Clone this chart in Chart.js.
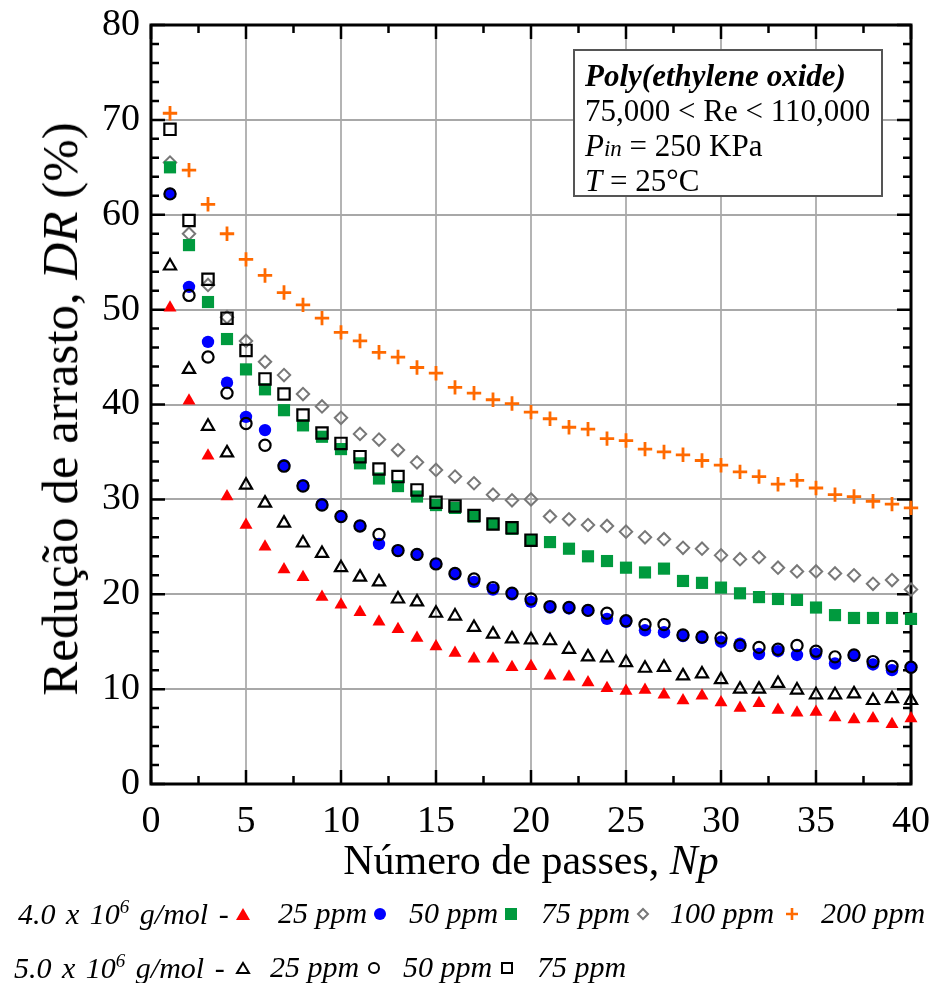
<!DOCTYPE html>
<html><head><meta charset="utf-8">
<script src="https://cdn.jsdelivr.net/npm/chart.js@4.4.1/dist/chart.umd.min.js"></script>
<style>
html,body{margin:0;padding:0;background:#fff;}
#wrap{position:relative;width:930px;height:983px;overflow:hidden;font-family:"Liberation Serif","Times New Roman",serif;color:#000;}
#c{position:absolute;left:0;top:0;}
.abs{position:absolute;white-space:nowrap;}
#ytitle{left:60px;top:409px;font-size:51px;transform:translate(-50%,-50%) rotate(-90deg);}
#xtitle{left:531px;top:836px;font-size:42px;transform:translateX(-50%);}
#box{left:573px;top:49px;width:306px;height:144px;border:2px solid #555;background:#fff;font-size:31px;line-height:35px;padding:0;}
#box div{position:absolute;left:10px;}
.leg{font-style:italic;font-size:30px;transform:translateY(-50%);}
.mk{position:absolute;transform:translate(-50%,-50%);}
</style></head><body>
<div id="wrap">
<canvas id="c" width="930" height="983"></canvas>
<div class="abs" id="ytitle">Redução de arrasto, <i>DR</i> (%)</div>
<div class="abs" id="xtitle">Número de passes, <i>Np</i></div>
<div class="abs" id="box">
  <div style="top:7px;font-weight:bold;font-style:italic;font-size:31px;">Poly(ethylene oxide)</div>
  <div style="top:42px;">75,000 &lt; Re &lt; 110,000</div>
  <div style="top:77px;"><i>P</i><i style="font-size:23px;">in</i> = 250 KPa</div>
  <div style="top:112px;"><i>T</i> = 25°C</div>
</div>
<div id="legend"></div>
</div>
<script>
// ---- data ----
const passes = [1,2,3,4,5,6,7,8,9,10,11,12,13,14,15,16,17,18,19,20,21,22,23,24,25,26,27,28,29,30,31,32,33,34,35,36,37,38,39,40];
const peo4_25ppm = [50.2,40.4,34.6,30.3,27.3,25.0,22.6,21.8,19.7,18.9,18.1,17.1,16.3,15.4,14.5,13.8,13.2,13.2,12.3,12.4,11.4,11.3,10.7,10.1,9.8,9.9,9.4,8.8,9.3,8.6,8.0,8.5,7.8,7.5,7.6,7.0,6.8,6.9,6.3,6.9];
const peo4_50ppm = [62.2,52.4,46.6,42.3,38.7,37.3,33.6,31.5,29.5,28.2,27.2,25.3,24.6,24.2,23.2,22.1,21.3,20.5,20.0,19.2,18.6,18.5,18.3,17.4,17.1,16.2,16.0,15.6,15.4,15.0,14.8,13.7,14.0,13.6,13.7,12.7,13.5,12.6,12.0,12.3];
const peo4_75ppm = [65.0,56.8,50.8,46.9,43.7,41.6,39.4,37.8,36.6,35.3,33.8,32.2,31.4,30.3,29.4,29.1,28.2,27.4,26.9,25.7,25.5,24.8,24.0,23.5,22.8,22.3,22.7,21.4,21.2,20.7,20.1,19.7,19.5,19.4,18.6,17.8,17.5,17.5,17.5,17.4];
const peo4_100ppm = [65.5,58.0,52.6,49.2,46.7,44.5,43.1,41.1,39.8,38.6,36.9,36.3,35.2,33.9,33.1,32.4,31.7,30.5,29.9,30.0,28.2,27.9,27.3,27.2,26.6,26.0,25.8,24.9,24.8,24.1,23.7,23.9,22.8,22.4,22.4,22.2,22.0,21.1,21.5,20.5];
const peo4_200ppm = [70.7,64.7,61.1,58.0,55.3,53.6,51.8,50.5,49.1,47.6,46.7,45.5,45.0,43.9,43.3,41.8,41.2,40.5,40.1,39.2,38.5,37.6,37.4,36.4,36.2,35.3,35.0,34.7,34.1,33.6,32.9,32.4,31.6,32.0,31.2,30.5,30.3,29.8,29.5,29.1];
const peo5_25ppm = [54.6,43.7,37.7,34.9,31.5,29.6,27.5,25.4,24.3,22.8,21.8,21.3,19.5,19.2,18.0,17.7,16.5,15.8,15.3,15.2,15.1,14.2,13.4,13.3,12.8,12.2,12.3,11.4,11.6,11.0,10.0,10.0,10.6,9.9,9.4,9.4,9.5,8.8,9.0,8.8];
const peo5_50ppm = [62.2,51.5,45.0,41.2,38.0,35.7,33.5,31.4,29.4,28.2,27.2,26.3,24.6,24.2,23.2,22.2,21.6,20.7,20.1,19.5,18.7,18.6,18.3,18.0,17.2,16.8,16.8,15.7,15.5,15.4,14.6,14.4,14.2,14.6,14.0,13.4,13.6,12.9,12.4,12.3];
const peo5_75ppm = [69.0,59.4,53.2,49.1,45.7,42.7,41.1,38.9,37.0,35.9,34.5,33.2,32.4,31.0,29.7,29.3,28.3,27.4,27.0,25.7];
const xTickValues = [0,5,10,15,20,25,30,35,40];
const yTickValues = [0,10,20,30,40,50,60,70,80];

function pts(vals){ return vals.map((v,i)=>({x:passes[i], y:v})); }

const seriesDefs = [
  {label:'4.0 x 10^6 g/mol - 25 ppm', data:peo4_25ppm, style:'triangle', r:7.5, bg:'#ff0000', bc:'#ff0000', bw:0, order:2},
  {label:'4.0 x 10^6 g/mol - 50 ppm', data:peo4_50ppm, style:'circle', r:6.2, bg:'#0000ff', bc:'#0000ff', bw:0, order:2},
  {label:'4.0 x 10^6 g/mol - 75 ppm', data:peo4_75ppm, style:'rect', r:8.6, bg:'#009a3e', bc:'#009a3e', bw:0, order:2},
  {label:'4.0 x 10^6 g/mol - 100 ppm', data:peo4_100ppm, style:'rectRot', r:6.2, bg:'rgba(0,0,0,0)', bc:'#777777', bw:2, order:2},
  {label:'4.0 x 10^6 g/mol - 200 ppm', data:peo4_200ppm, style:'cross', r:7.2, bg:'#ff6a00', bc:'#ff6a00', bw:2.8, order:2},
  {label:'5.0 x 10^6 g/mol - 25 ppm', data:peo5_25ppm, style:'triangle', r:7, bg:'rgba(0,0,0,0)', bc:'#000', bw:2.2, order:1},
  {label:'5.0 x 10^6 g/mol - 50 ppm', data:peo5_50ppm, style:'circle', r:5.6, bg:'rgba(0,0,0,0)', bc:'#000', bw:2.2, order:1},
  {label:'5.0 x 10^6 g/mol - 75 ppm', data:peo5_75ppm, style:'rect', r:8, bg:'rgba(0,0,0,0)', bc:'#000', bw:2.2, order:1}
];

const datasets = seriesDefs.map(s=>({
  label:s.label, data:pts(s.data), pointStyle:s.style, pointRadius:s.r, pointHoverRadius:s.r,
  pointBackgroundColor:s.bg, pointBorderColor:s.bc, pointBorderWidth:s.bw,
  backgroundColor:s.bg, borderColor:s.bc, showLine:false, order:s.order, clip:false
}));

const framePlugin = {
  id:'frame',
  beforeDatasetsDraw(chart){
    const ctx = chart.ctx, a = chart.chartArea, xs = chart.scales.x, ys = chart.scales.y;
    ctx.save();
    ctx.strokeStyle = '#000';
    ctx.lineWidth = 2.5;
    ctx.lineCap = 'butt';
    ctx.beginPath();
    for (let v = 0; v <= 40; v += 2.5) {
      const px = xs.getPixelForValue(v);
      const len = (v % 5 === 0) ? 14 : 8;
      ctx.moveTo(px, a.bottom); ctx.lineTo(px, a.bottom - len);
      ctx.moveTo(px, a.top); ctx.lineTo(px, a.top + len);
    }
    for (let v = 0; v <= 80; v += 2) {
      const py = ys.getPixelForValue(v);
      const len = (v % 10 === 0) ? 14 : 8;
      ctx.moveTo(a.left, py); ctx.lineTo(a.left + len, py);
      ctx.moveTo(a.right, py); ctx.lineTo(a.right - len, py);
    }
    ctx.stroke();
    ctx.lineWidth = 3;
    ctx.strokeRect(a.left, a.top, a.right - a.left, a.bottom - a.top);
    ctx.restore();
  }
};

const tickFont = {family:'Liberation Serif', size:38};
function noPad(s){ s.paddingLeft = 0; s.paddingRight = 0; s.paddingTop = 0; s.paddingBottom = 0; }
new Chart(document.getElementById('c'), {
  type:'scatter',
  data:{datasets},
  options:{
    responsive:false, animation:false, devicePixelRatio:1,
    layout:{padding:{left:0, right:19, top:25, bottom:139}},
    plugins:{legend:{display:false}, tooltip:{enabled:false}},
    scales:{
      x:{type:'linear', min:0, max:40,
         afterBuildTicks(s){ s.ticks = xTickValues.map(v=>({value:v})); },
         ticks:{font:tickFont, color:'#000', padding:15, maxRotation:0, autoSkip:false},
         grid:{color:'#b4b4b4', lineWidth:2, drawTicks:false},
         border:{display:false},
         afterFit(s){ s.height = 60; noPad(s); }},
      y:{type:'linear', min:0, max:80,
         afterBuildTicks(s){ s.ticks = yTickValues.map(v=>({value:v})); },
         ticks:{font:tickFont, color:'#000', padding:11, autoSkip:false},
         grid:{color:'#a8a8a8', lineWidth:2, drawTicks:false},
         border:{display:false},
         afterFit(s){ s.width = 151; noPad(s); }}
    }
  },
  plugins:[framePlugin]
});

// ---- legend (HTML) ----
function marker(kind){
  const m = {
    tri:'<svg width="16" height="14"><polygon points="8,1 15,13 1,13" fill="#ff0000"/></svg>',
    circ:'<svg width="14" height="14"><circle cx="7" cy="7" r="6" fill="#0000ff"/></svg>',
    sq:'<svg width="14" height="14"><rect x="1" y="1" width="12" height="12" fill="#009a3e"/></svg>',
    dia:'<svg width="14" height="14"><polygon points="7,2 12,7 7,12 2,7" fill="none" stroke="#777" stroke-width="2"/></svg>',
    plus:'<svg width="16" height="16"><path d="M8 2V14M2 8H14" stroke="#ff6a00" stroke-width="2.6"/></svg>',
    otri:'<svg width="16" height="14"><polygon points="8,2 14,12 2,12" fill="none" stroke="#000" stroke-width="2"/></svg>',
    ocirc:'<svg width="14" height="14"><circle cx="7" cy="7" r="5" fill="none" stroke="#000" stroke-width="2"/></svg>',
    osq:'<svg width="14" height="14"><rect x="2" y="2" width="10" height="10" fill="none" stroke="#000" stroke-width="2"/></svg>'
  };
  return m[kind];
}
const legendRows = [
  {y:913, head:'4.0 x 10<sup style="font-size:19px">6</sup> g/mol -', items:[['tri',243,'25 ppm',278],['circ',380,'50 ppm',409],['sq',511,'75 ppm',541],['dia',643,'100 ppm',670],['plus',792,'200 ppm',821]]},
  {y:967, head:'5.0 x 10<sup style="font-size:19px">6</sup> g/mol -', items:[['otri',243,'25 ppm',270],['ocirc',374,'50 ppm',403],['osq',507,'75 ppm',537]]}
];
const lg = document.getElementById('legend');
let html = '';
legendRows.forEach((row, ri)=>{
  html += `<div class="abs leg" style="left:${ri===0?18:14}px;top:${row.y}px;word-spacing:3px;">${row.head}</div>`;
  row.items.forEach(it=>{
    html += `<div class="mk" style="left:${it[1]}px;top:${row.y+3}px;">${marker(it[0])}</div>`;
    html += `<div class="abs leg" style="left:${it[3]}px;top:${row.y}px;">${it[2]}</div>`;
  });
});
lg.innerHTML = html;
</script>
</body></html>
